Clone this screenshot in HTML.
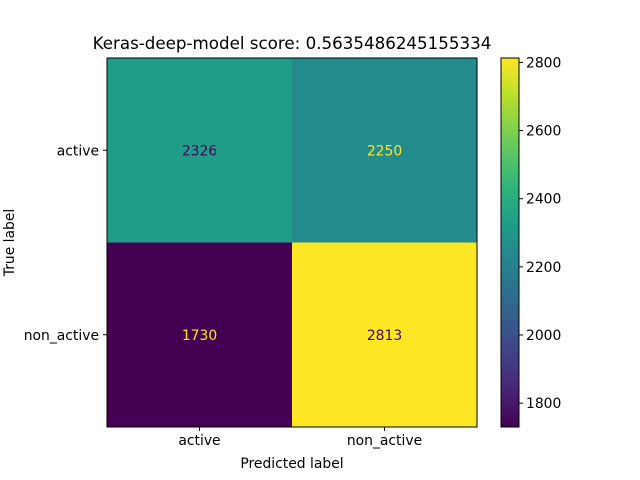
<!DOCTYPE html>
<html><head><meta charset="utf-8"><style>
body{margin:0;background:#fff;}
svg{display:block;font-family:"DejaVu Sans","Liberation Sans",sans-serif;}
</style></head><body>
<svg id="chart" width="640" height="480" xmlns="http://www.w3.org/2000/svg">
<defs><linearGradient id="vir" x1="0" y1="1" x2="0" y2="0"></linearGradient></defs>
<text x="292" y="49" font-size="16.7" text-anchor="middle" fill="#000">Keras-deep-model score: 0.5635486245155334</text>
<g id="cells"></g>
<g id="axes"></g>
</svg>
<script>
const classes = ["active", "non_active"];
const matrix = [[2326, 2250], [1730, 2813]];
const cbarTicks = [1800, 2000, 2200, 2400, 2600, 2800];

const NS = "http://www.w3.org/2000/svg";
const svg = document.getElementById('chart');
const FS = 13.9;
const vStops = [[68,1,84],[72,40,120],[62,73,137],[49,104,142],[38,130,142],[31,158,137],[53,183,121],[109,205,89],[180,222,44],[253,231,37]];
function viridis(t){t=Math.max(0,Math.min(1,t));const p=t*(vStops.length-1);const i=Math.min(Math.floor(p),vStops.length-2);const f=p-i;
 const c=vStops[i].map((v,k)=>Math.round(v+(vStops[i+1][k]-v)*f));return `rgb(${c[0]},${c[1]},${c[2]})`;}
function el(tag,attrs,parent,text){const e=document.createElementNS(NS,tag);for(const k in attrs)e.setAttribute(k,attrs[k]);if(text!==undefined)e.textContent=text;(parent||svg).appendChild(e);return e;}

const all=matrix.flat();const vmin=Math.min(...all), vmax=Math.max(...all);
const X0=107,Y0=58,W=370,H=369;const n=classes.length;const cw=W/n,ch=H/n;
const xs=j=>X0+j*cw, ys=i=>Y0+i*ch;
const norm=v=>(v-vmin)/(vmax-vmin);
const cells=document.getElementById('cells');
const thresh=(vmin+vmax)/2;
matrix.forEach((row,i)=>row.forEach((v,j)=>{
 const r=el('rect',{x:xs(j),y:ys(i),width:cw+0.5,height:ch+0.5,fill:viridis(norm(v))},cells);
 
 
 const t=el('text',{x:xs(j)+cw/2,y:ys(i)+ch/2+5,'font-size':FS,'text-anchor':'middle',fill:v<thresh?'#fde725':'#440154'},cells,String(v));
 
 
}));
const ax=document.getElementById('axes');
el('rect',{x:X0,y:Y0,width:W,height:H,fill:'none',stroke:'#000','stroke-width':1},ax);
classes.forEach((c,j)=>{
 const x=xs(j)+cw/2;
 el('line',{x1:x,x2:x,y1:Y0+H,y2:Y0+H+4,stroke:'#000'},ax);
 const t=el('text',{x:x,y:Y0+H+18,'font-size':FS,'text-anchor':'middle'},ax,c);
 
 const y=ys(j)+ch/2;
 el('line',{x1:X0-4,x2:X0,y1:y,y2:y,stroke:'#000'},ax);
 const t2=el('text',{x:X0-8,y:y+5,'font-size':FS,'text-anchor':'end'},ax,c);
 
});
const xl=el('text',{x:X0+W/2,y:468,'font-size':FS,'text-anchor':'middle'},ax,'Predicted label');

const yl=el('text',{x:14,y:Y0+H/2,'font-size':FS,'text-anchor':'middle',transform:`rotate(-90 14 ${Y0+H/2})`},ax,'True label');

const grad=document.getElementById('vir');
for(let k=0;k<=20;k++){el('stop',{offset:(k/20),'stop-color':viridis(k/20)},grad);}
const CX=501,CW=18;
const cb=el('rect',{x:CX,y:Y0,width:CW,height:H,fill:'url(#vir)',stroke:'#000','stroke-width':1},ax);

const cy=v=>Y0+H-norm(v)*H;
cbarTicks.forEach(v=>{
 const y=cy(v);
 el('line',{x1:CX+CW,x2:CX+CW+4,y1:y,y2:y,stroke:'#000'},ax);
 const t=el('text',{x:CX+CW+7,y:y+5,'font-size':FS},ax,String(v));
 
});
</script>
</body></html>
